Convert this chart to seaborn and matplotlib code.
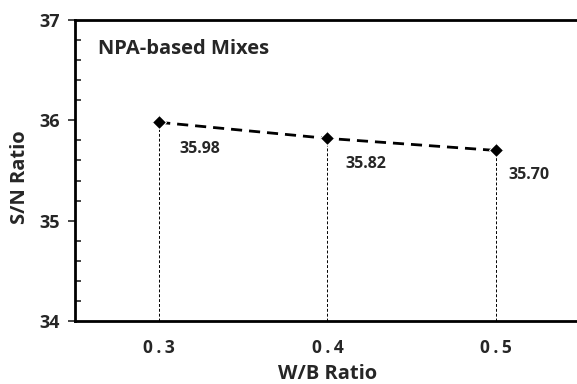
import matplotlib
matplotlib.use("Agg")
import matplotlib.pyplot as plt
import seaborn as sns
import pandas as pd
from matplotlib.ticker import MultipleLocator

wb_ratio = [0.3, 0.4, 0.5]
sn_ratio = [35.98, 35.82, 35.70]
point_labels = ["35.98", "35.82", "35.70"]
x_ticks = [0.3, 0.4, 0.5]
y_ticks = [34, 35, 36, 37]

sns.set_style("white")
plt.rcParams['font.family'] = ['Open Sans', 'DejaVu Sans']

df = pd.DataFrame({"wb": wb_ratio, "sn": sn_ratio})

fig = plt.figure(figsize=(5.77, 3.84), dpi=100)
ax = fig.add_axes([0.130, 0.164, 0.875, 0.784])

for x, y in zip(wb_ratio, sn_ratio):
    ax.plot([x, x], [34, y], color="black", linestyle=(0, (3, 2)), linewidth=0.7, zorder=1)

sns.lineplot(data=df, x="wb", y="sn", ax=ax, color="black", linestyle=(0, (4, 2.5)),
             linewidth=2, marker="D", markersize=7.5, zorder=3)

# offsets in pixels converted to points (dpi 100)
offsets_px = [(20, -27), (18, -26), (13, -25)]
for x, y, lab, off in zip(wb_ratio, sn_ratio, point_labels, offsets_px):
    ax.annotate(lab, (x, y), xytext=(off[0] * 0.72, off[1] * 0.72), textcoords="offset points",
                fontsize=11.5, fontweight="bold", ha="left", va="center")

ax.set_xlim(0.25, 0.55)
ax.set_ylim(34, 37)
ax.set_xticks(x_ticks)
ax.set_xticklabels(["\u2009".join(f"{v:.1f}") for v in x_ticks])
ax.set_yticks(y_ticks)
ax.yaxis.set_minor_locator(MultipleLocator(0.2))
ax.tick_params(axis="y", which="major", direction="out", length=5, width=1.2, left=True,
               labelsize=13, pad=6)
ax.tick_params(axis="y", which="minor", direction="in", length=4, width=1.2, left=True)
ax.tick_params(axis="x", which="major", length=0, labelsize=12.5, pad=13)
for lab in ax.get_xticklabels() + ax.get_yticklabels():
    lab.set_fontweight("bold")

ax.set_xlabel("W/B Ratio", fontsize=14.5, fontweight="bold", labelpad=5)
ax.set_ylabel("S/N Ratio", fontsize=14.5, fontweight="bold", va="center")
ax.yaxis.set_label_coords(-0.109, 0.478)

for side in ["left", "bottom", "top"]:
    ax.spines[side].set_linewidth(2)
    ax.spines[side].set_color("black")
ax.spines["right"].set_visible(False)

ax.text(0.045, 0.905, "NPA-based Mixes", transform=ax.transAxes, fontsize=14.5,
        fontweight="bold", ha="left", va="center")

fig.savefig("out.png", dpi=100)
